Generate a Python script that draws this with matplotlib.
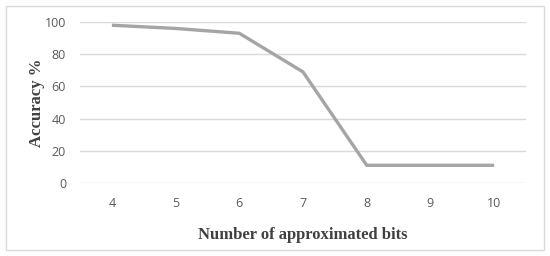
import matplotlib
matplotlib.use("Agg")
import matplotlib.pyplot as plt
from matplotlib.patches import Rectangle

bits = [4, 5, 6, 7, 8, 9, 10]
accuracy = [98, 96, 93, 69, 11, 11, 11]
yticks = [0, 20, 40, 60, 80, 100]

fig = plt.figure(figsize=(5.5, 2.56), dpi=100)
fig.patches.append(Rectangle((6/550, 6/256), 538/550, 244/256, transform=fig.transFigure,
                             fill=False, edgecolor='#D9D9D9', linewidth=1))
ax = fig.add_axes([80/550, (256-183)/256, 446/550, 161/256])
ax.plot(bits, accuracy, color='#A5A5A5', linewidth=2.4, solid_capstyle='butt', zorder=3)
ax.set_xlim(3.5, 10.5)
ax.set_ylim(0, 100)
ax.set_yticks(yticks)
ax.set_xticks(bits)
ax.grid(axis='y', color='#D9D9D9', linewidth=1)
for s in ax.spines.values():
    s.set_visible(False)
ax.tick_params(length=0, labelsize=9, colors='#595959', labelcolor='#595959')
ax.tick_params(axis='x', pad=10)
ax.tick_params(axis='y', pad=10)
for lab in ax.get_xticklabels() + ax.get_yticklabels():
    lab.set_family('Open Sans')
ax.set_xlabel('Number of approximated bits', family='Liberation Serif', fontweight='bold',
              fontsize=12, color='#404040', labelpad=12)
ax.set_ylabel('Accuracy %', family='Liberation Serif', fontweight='bold',
              fontsize=12, color='#404040', labelpad=0)
fig.savefig('out.png', dpi=100)
